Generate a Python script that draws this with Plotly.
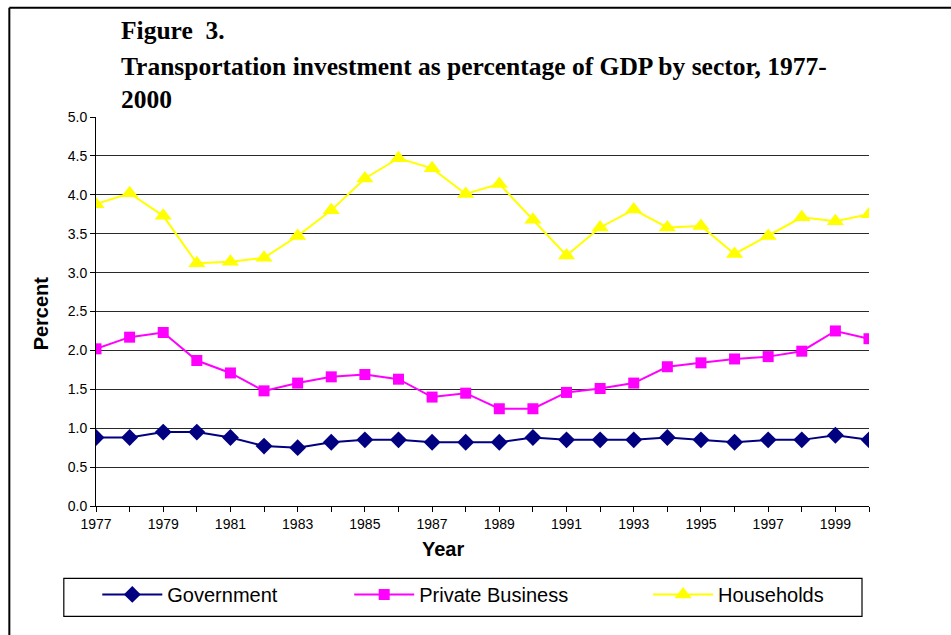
import plotly.graph_objects as go

years = list(range(1977, 2001))
government = [0.88, 0.88, 0.95, 0.95, 0.88, 0.77, 0.75, 0.82, 0.85, 0.85, 0.82, 0.82,
              0.82, 0.88, 0.85, 0.85, 0.85, 0.88, 0.85, 0.82, 0.85, 0.85, 0.91, 0.85]
private_business = [2.02, 2.17, 2.23, 1.87, 1.71, 1.48, 1.58, 1.66, 1.69, 1.63, 1.40, 1.45,
                    1.25, 1.25, 1.46, 1.51, 1.58, 1.79, 1.84, 1.89, 1.92, 1.99, 2.25, 2.15]
households = [3.88, 4.02, 3.73, 3.12, 3.14, 3.19, 3.47, 3.80, 4.21, 4.47, 4.34, 4.01,
              4.14, 3.68, 3.22, 3.58, 3.81, 3.58, 3.60, 3.24, 3.47, 3.71, 3.66, 3.75]
x_tick_labels = [str(y) if (y - 1977) % 2 == 0 else "" for y in years]
y_ticks = [0.0, 0.5, 1.0, 1.5, 2.0, 2.5, 3.0, 3.5, 4.0, 4.5, 5.0]

W, H = 951, 635
L, R, T, B = 95.7, 869.0, 117.2, 505.7


def px(x):
    return (x - L) / (R - L)


def py(y):
    return (B - y) / (B - T)


fig = go.Figure()
fig.add_trace(go.Scatter(x=years, y=government, name="Government", mode="lines+markers",
                         line=dict(color="#000080", width=2),
                         marker=dict(symbol="diamond", size=13, color="#000080"),
                         legend="legend"))
fig.add_trace(go.Scatter(x=years, y=private_business, name="Private Business", mode="lines+markers",
                         line=dict(color="#FF00FF", width=2),
                         marker=dict(symbol="square", size=11, color="#FF00FF"),
                         legend="legend2"))
fig.add_trace(go.Scatter(x=years, y=households, name="Households", mode="lines+markers",
                         line=dict(color="#FFFF00", width=2),
                         marker=dict(symbol="triangle-up", size=15, color="#FFFF00"),
                         legend="legend3"))

legend_common = dict(bgcolor="rgba(0,0,0,0)", borderwidth=0, itemwidth=60,
                     font=dict(family="Liberation Sans, Arial", size=20, color="black"),
                     xanchor="left", yanchor="middle", itemclick=False)

fig.update_layout(
    width=W, height=H,
    margin=dict(l=L, r=W - R, t=T, b=H - B),
    paper_bgcolor="white", plot_bgcolor="white",
    showlegend=True,
    legend=dict(x=px(97), y=py(594), **legend_common),
    legend2=dict(x=px(349), y=py(594), **legend_common),
    legend3=dict(x=px(648), y=py(594), **legend_common),
    xaxis=dict(range=[1977, 2000], tickmode="array", tickvals=years, ticktext=x_tick_labels,
               showgrid=False, zeroline=False, showline=True, linecolor="black", linewidth=1,
               ticks="outside", ticklen=5, tickcolor="black",
               tickfont=dict(family="Liberation Sans, Arial", size=14, color="black")),
    yaxis=dict(range=[0, 5], tickmode="array", tickvals=y_ticks,
               ticktext=[f"{v:.1f}" for v in y_ticks],
               showgrid=True, gridcolor="#2a2a2a", gridwidth=1, zeroline=False,
               showline=True, linecolor="black", linewidth=1,
               ticks="outside", ticklen=5, tickcolor="black",
               tickfont=dict(family="Liberation Sans, Arial", size=14, color="black")),
    font=dict(family="Liberation Sans, Arial", color="black"),
)

title_font = dict(family="Liberation Serif, Times New Roman", size=25.5, color="black")
for text, ycen in [("<b>Figure  3.</b>", 31), ("<b>Transportation investment as percentage of GDP by sector, 1977-</b>", 67),
                   ("<b>2000</b>", 100)]:
    fig.add_annotation(text=text, xref="paper", yref="paper", x=px(119), y=py(ycen),
                       xanchor="left", yanchor="middle", showarrow=False, font=title_font)

fig.add_annotation(text="<b>Year</b>", xref="paper", yref="paper", x=px(443), y=py(549),
                   xanchor="center", yanchor="middle", showarrow=False,
                   font=dict(family="Liberation Sans, Arial", size=20, color="black"))
fig.add_annotation(text="<b>Percent</b>", xref="paper", yref="paper", x=px(41), y=py(313),
                   xanchor="center", yanchor="middle", showarrow=False, textangle=-90,
                   font=dict(family="Liberation Sans, Arial", size=20, color="black"))

# legend frame
fig.add_shape(type="rect", xref="paper", yref="paper", x0=px(63.5), x1=px(862), y0=py(616), y1=py(578),
              line=dict(color="black", width=1.2), fillcolor="rgba(0,0,0,0)")
# outer border (top and left)
fig.add_shape(type="line", xref="paper", yref="paper", x0=px(9), x1=px(960), y0=py(8), y1=py(8),
              line=dict(color="black", width=2))
fig.add_shape(type="line", xref="paper", yref="paper", x0=px(9), x1=px(9), y0=py(8), y1=py(645),
              line=dict(color="black", width=2))

fig.write_html("out.html")
